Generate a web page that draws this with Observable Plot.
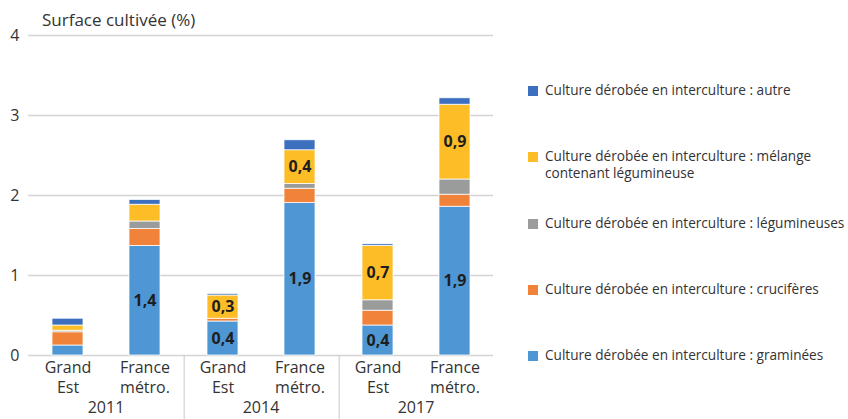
<!DOCTYPE html>
<html>
<head>
<meta charset="utf-8">
<script src="https://cdn.jsdelivr.net/npm/d3@7"></script>
<script src="https://cdn.jsdelivr.net/npm/@observablehq/plot@0.6"></script>
<style>
  body { margin: 0; background: #fff; font-family: "Open Sans", sans-serif; }
  #chart { position: relative; width: 848px; height: 419px; }
  #title { position: absolute; left: 42px; top: 8px; font-size: 17px; color: #333; }
  #legend { position: absolute; left: 528px; top: 81px; font-size: 13.6px; color: #333; }
  .item { display: flex; align-items: flex-start; height: 66.25px; }
  .sw { width: 10px; height: 10px; margin-top: 5px; margin-right: 7px; flex: none; }
  .lab { width: 305px; line-height: 17px; }
  svg { position: absolute; left: 0; top: 0; }
</style>
</head>
<body>
<div id="chart">
  <div id="title">Surface cultivée (%)</div>
  <div id="legend"></div>
</div>
<script>
const years = ["2011", "2014", "2017"];
const regions = ["Grand Est", "France métro."];
const regionLabels = ["Grand\nEst", "France\nmétro."];
const yTicks = [0, 1, 2, 3, 4];
// stacking order, bottom to top
const categories = ["graminées", "crucifères", "légumineuses", "mélange contenant légumineuse", "autre"];
const colors = ["#4e96d4", "#f0823a", "#9a9b9b", "#fcbd26", "#3c6fbe"];
// values per bar: GE 2011, FR 2011, GE 2014, FR 2014, GE 2017, FR 2017
const graminees    = [0.125, 1.37, 0.425, 1.905, 0.375, 1.86];
const cruciferes   = [0.165, 0.21, 0.035, 0.18, 0.185, 0.15];
const legumineuses = [0.02, 0.095, 0.0, 0.06, 0.13, 0.19];
const melange      = [0.065, 0.21, 0.29, 0.42, 0.68, 0.935];
const autre        = [0.085, 0.06, 0.02, 0.125, 0.02, 0.08];
const series = [graminees, cruciferes, legumineuses, melange, autre];
const legendOrder = ["autre", "mélange contenant légumineuse", "légumineuses", "crucifères", "graminées"];
const legendLabels = [
  "Culture dérobée en interculture : autre",
  "Culture dérobée en interculture : mélange contenant légumineuse",
  "Culture dérobée en interculture : légumineuses",
  "Culture dérobée en interculture : crucifères",
  "Culture dérobée en interculture : graminées"
];

const rows = [];
categories.forEach((c, i) => {
  years.forEach((yr, j) => {
    regions.forEach((r, k) => {
      rows.push({category: c, year: yr, region: r, value: series[i][j * 2 + k]});
    });
  });
});

const fmt = v => v.toFixed(1).replace(".", ",");
const W = 848, mL = 27, mR = 355;
const step = (W - mL - mR) / (years.length * regions.length);

const chart = Plot.plot({
  width: W,
  height: 419,
  marginTop: 35,
  marginBottom: 64,
  marginLeft: mL,
  marginRight: mR,
  style: {fontFamily: "Open Sans, sans-serif", color: "#333", overflow: "visible"},
  fx: {domain: years, padding: 0},
  x: {domain: regions, paddingInner: 0.6, paddingOuter: 0.3},
  y: {domain: [0, 4]},
  color: {domain: categories, range: colors},
  marks: [
    Plot.gridY(yTicks, {stroke: "#d4d4d4", strokeOpacity: 1, strokeWidth: 1.5}),
    Plot.axisY(yTicks, {tickSize: 0, tickPadding: 9, fontSize: 16, label: null, fill: "#333",
      tickFormat: d => String(d)}),
    Plot.axisX({tickSize: 0, tickPadding: 3, fontSize: 16, lineHeight: 1.25, label: null,
      tickFormat: d => regionLabels[regions.indexOf(d)], fill: "#333"}),
    Plot.axisFx({anchor: "bottom", tickSize: 0, tickPadding: 46, fontSize: 16, label: null, fill: "#333"}),
    Plot.ruleX([{year: "2014"}, {year: "2017"}], {fx: "year", x: () => regions[0], dx: -step / 2,
      y1: 0, y2: -0.8, stroke: "#c8c8c8", strokeWidth: 1, clip: false}),
    Plot.barY(rows, Plot.stackY({fx: "year", x: "region", y: "value", fill: "category", z: "category",
      order: categories, stroke: "white", strokeWidth: 0.75})),
    Plot.text(rows, Plot.stackY({fx: "year", x: "region", y: "value", z: "category", order: categories,
      text: d => d.value >= 0.25 ? fmt(d.value) : null, fontSize: 16, fontWeight: 700, fill: "#1e1e1e"}))
  ]
});
document.getElementById("chart").prepend(chart);

const legend = document.getElementById("legend");
legendOrder.forEach((c, i) => {
  const item = document.createElement("div");
  item.className = "item";
  const sw = document.createElement("div");
  sw.className = "sw";
  sw.style.background = colors[categories.indexOf(c)];
  const lab = document.createElement("div");
  lab.className = "lab";
  lab.textContent = legendLabels[i];
  item.append(sw, lab);
  legend.append(item);
});
</script>
</body>
</html>
